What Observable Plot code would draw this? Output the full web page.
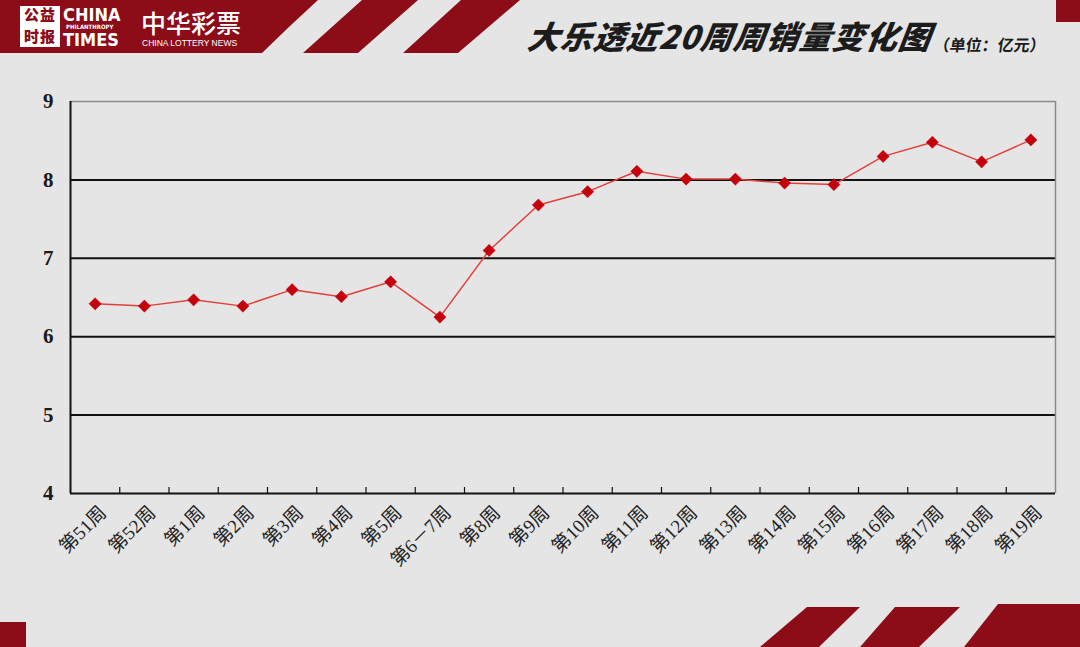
<!DOCTYPE html>
<html>
<head>
<meta charset="utf-8">
<script src="https://cdn.jsdelivr.net/npm/d3@7"></script>
<script src="https://cdn.jsdelivr.net/npm/@observablehq/plot@0.6"></script>
<style>
  html, body { margin: 0; padding: 0; background: #e5e5e5; }
  #page { position: relative; width: 1080px; height: 647px; overflow: hidden; background: #e5e5e5; }
  .red { position: absolute; background: #8c0c18; }
  .t { position: absolute; white-space: nowrap; color: #fff; font-family: "Noto Sans CJK SC", sans-serif; line-height: 1; }
  #title { position: absolute; left: 528px; top: 19px; font-family: "Noto Sans CJK SC", sans-serif; font-weight: 900; font-style: italic; font-size: 32px; color: #1c1c1c; line-height: 1; white-space: nowrap; transform: skewX(-8deg); letter-spacing: 1px; }
  #unit { position: absolute; left: 934px; top: 36px; font-family: "Noto Sans CJK SC", sans-serif; font-weight: 700; font-size: 16px; color: #1c1c1c; line-height: 1; white-space: nowrap; transform: skewX(-8deg); }
  #chart { position: absolute; left: 0; top: 60px; }
</style>
</head>
<body>
<div id="page">
  <!-- header decorations -->
  <div class="red" style="left:0;top:0;width:330px;height:53px;clip-path:polygon(0 0,318px 0,290px 26px,262px 53px,0 53px);"></div>
  <div class="red" style="left:300px;top:0;width:130px;height:53px;clip-path:polygon(62px 0,118px 0,58px 53px,3px 53px);"></div>
  <div class="red" style="left:400px;top:0;width:130px;height:53px;clip-path:polygon(61px 0,120px 0,58px 53px,3px 53px);"></div>
  <div class="red" style="left:1056px;top:0;width:24px;height:22px;"></div>
  <div class="red" style="left:0;top:622px;width:26px;height:25px;"></div>
  <div class="red" style="left:750px;top:600px;width:330px;height:47px;clip-path:polygon(57px 7px,110px 7px,69px 47px,10px 47px);"></div>
  <div class="red" style="left:750px;top:600px;width:330px;height:47px;clip-path:polygon(145px 7px,210px 7px,169px 47px,110px 47px);"></div>
  <div class="red" style="left:750px;top:600px;width:330px;height:47px;clip-path:polygon(248px 4px,330px 4px,330px 47px,214px 47px);"></div>

  <!-- logo texts -->
  <div style="position:absolute;left:20px;top:6px;width:40px;height:41px;background:#fff;"></div>
  <div class="t" style="left:24px;top:6px;font-size:15px;font-weight:900;color:#8c0c18;letter-spacing:1px;">公益</div>
  <div class="t" style="left:24px;top:28px;font-size:15px;font-weight:900;color:#8c0c18;letter-spacing:1px;">时报</div>
  <div class="t" style="left:63px;top:6px;font-family:'Liberation Sans Narrow','DejaVu Sans Condensed',sans-serif;font-size:18px;font-weight:900;">CHINA</div>
  <div class="t" style="left:66px;top:24px;font-family:'DejaVu Sans Condensed',sans-serif;font-size:6px;font-weight:700;">PHILANTHROPY</div>
  <div class="t" style="left:63px;top:31px;font-family:'Liberation Sans Narrow','DejaVu Sans Condensed',sans-serif;font-size:18px;font-weight:900;">TIMES</div>
  <div class="t" style="left:141px;top:10px;font-size:25px;font-weight:500;">中华彩票</div>
  <div class="t" style="left:142px;top:39px;font-family:'Liberation Sans',sans-serif;font-size:8.5px;">CHINA LOTTERY NEWS</div>

  <div id="title">大乐透近20周周销量变化图</div>
  <div id="unit">（单位：亿元）</div>
  <div id="chart"></div>
</div>
<script>
// ---- data ----
const weeks = ["第51周","第52周","第1周","第2周","第3周","第4周","第5周","第6－7周","第8周","第9周",
               "第10周","第11周","第12周","第13周","第14周","第15周","第16周","第17周","第18周","第19周"];
const sales = [6.42,6.39,6.47,6.39,6.60,6.51,6.70,6.25,7.10,7.68,
               7.85,8.11,8.01,8.01,7.96,7.94,8.30,8.48,8.23,8.51];
const yTicks = [4,5,6,7,8,9];
const gridValues = [5,6,7,8];

const rows = weeks.map((w, i) => ({i, week: w, value: sales[i]}));
const boundaries = d3.range(0.5, weeks.length - 1, 1);

const chart = Plot.plot({
  width: 1080,
  height: 587,
  marginTop: 41,
  marginBottom: 154,
  marginLeft: 70,
  marginRight: 25,
  style: {background: "transparent", overflow: "visible"},
  x: {domain: [-0.5, weeks.length - 0.5], axis: null},
  y: {domain: [4, 9], axis: null},
  marks: [
    Plot.ruleY(gridValues, {stroke: "#111", strokeWidth: 2}),
    Plot.ruleY([9], {stroke: "#8a8a8a", strokeWidth: 1.5}),
    Plot.ruleX([weeks.length - 0.5], {stroke: "#8a8a8a", strokeWidth: 1.5}),
    Plot.ruleX([-0.5], {stroke: "#111", strokeWidth: 2}),
    Plot.ruleY([4], {stroke: "#111", strokeWidth: 2}),
    Plot.ruleX(boundaries, {y1: 4, y2: 4, insetTop: -6, stroke: "#111", strokeWidth: 1.2}),
    Plot.axisY({ticks: yTicks, tickFormat: "d", label: null, tickSize: 0, tickPadding: 17, fontSize: 21, fontWeight: "bold",
                fontFamily: "Liberation Serif, serif", color: "#1a1a1a"}),
    Plot.text(rows, {x: "i", y: 4, text: "week", rotate: -45, textAnchor: "end",
                     dx: 8, dy: 16, fontSize: 19, fill: "#222",
                     fontFamily: "Liberation Serif, Noto Sans CJK SC, serif"}),
    Plot.line(rows, {x: "i", y: "value", stroke: "#e2403a", strokeWidth: 1.5}),
    Plot.dot(rows, {x: "i", y: "value", symbol: "diamond2", r: 5.5, fill: "#c4000c", stroke: "#c4000c", strokeWidth: 0.5})
  ]
});
document.getElementById("chart").appendChild(chart);
</script>
</body>
</html>
